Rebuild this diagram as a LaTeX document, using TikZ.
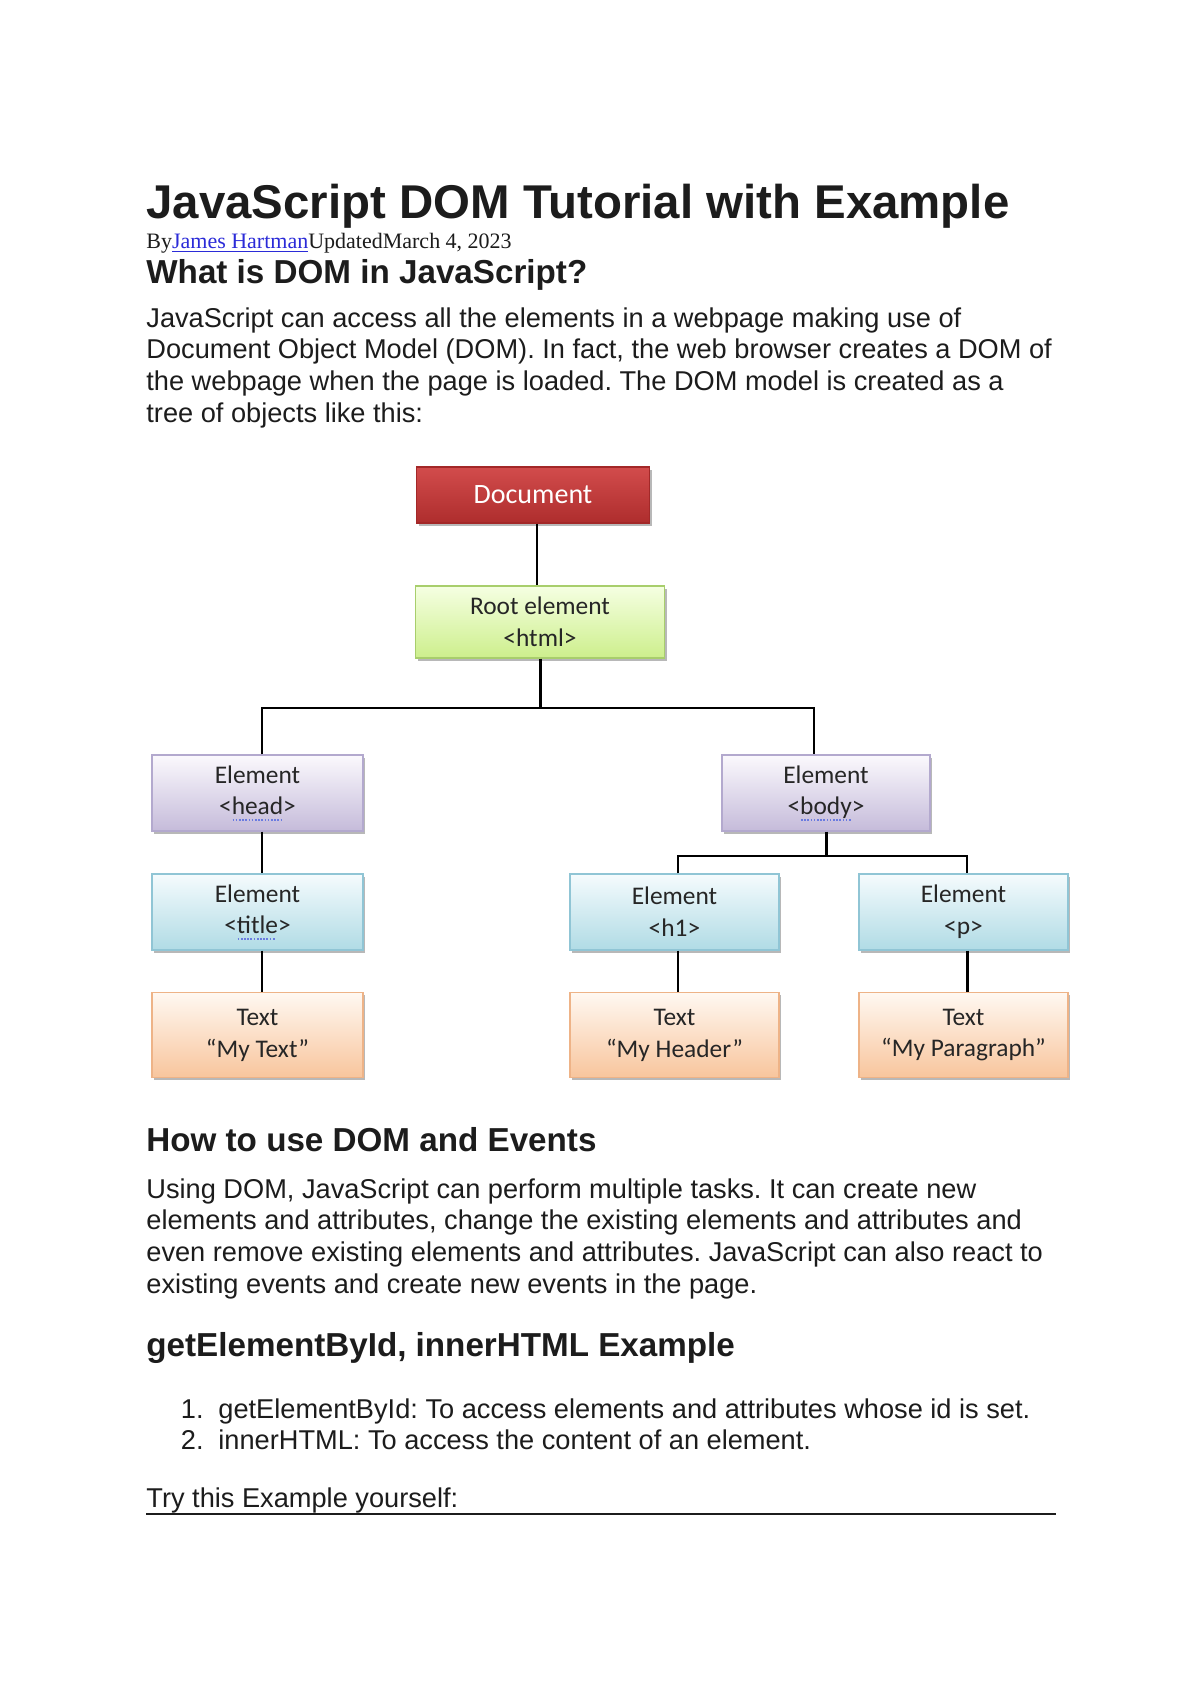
\documentclass[tikz,border=0pt]{standalone}
\usepackage{fontspec}
\setmainfont{Liberation Sans}
\newfontfamily\boxfont{Carlito}
\newfontfamily\seriffont{Liberation Serif}
\usetikzlibrary{shadows}
\frenchspacing

\definecolor{inktext}{HTML}{1C1C1C}
\definecolor{linkblue}{HTML}{2B2BD8}
\definecolor{spellblue}{HTML}{6A7BE0}
\definecolor{boxtext}{HTML}{262626}
\definecolor{docTop}{HTML}{D24C4C}
\definecolor{docBot}{HTML}{AE2D2D}
\definecolor{docLine}{HTML}{A32828}
\definecolor{rootTop}{HTML}{F5FFE2}
\definecolor{rootBot}{HTML}{CDEF8C}
\definecolor{rootLine}{HTML}{A8CE6C}
\definecolor{purpTop}{HTML}{FBF9FD}
\definecolor{purpBot}{HTML}{C5BBDA}
\definecolor{purpLine}{HTML}{B3A9CE}
\definecolor{blueTop}{HTML}{F5FBFD}
\definecolor{blueBot}{HTML}{B0DBE5}
\definecolor{blueLine}{HTML}{90C5D5}
\definecolor{orngTop}{HTML}{FFF8F1}
\definecolor{orngBot}{HTML}{F8C59D}
\definecolor{orngLine}{HTML}{EEB387}

\newlength{\squigwd}
\newcommand{\squig}[1]{\settowidth{\squigwd}{#1}%
    \rlap{\textcolor{spellblue}{\raisebox{-2.8pt}{\leaders\hbox to 1.6pt{\hss\rule{0.85pt}{0.8pt}\hss}\hskip\squigwd}}}#1}

\tikzset{
    dombox/.style={minimum width=105.5pt, minimum height=38pt, inner sep=0pt, align=center,
        line width=0.6pt, text=boxtext, font=\boxfont\fontsize{12.7}{15.9}\selectfont,
        drop shadow={shadow xshift=1.2pt, shadow yshift=-1.4pt, fill=black, opacity=0.28}},
    docbox/.style={dombox, top color=docTop, bottom color=docBot, draw=docLine, text=white},
    rootbox/.style={dombox, top color=rootTop, bottom color=rootBot, draw=rootLine},
    elembox/.style={dombox, top color=purpTop, bottom color=purpBot, draw=purpLine},
    tagbox/.style={dombox, top color=blueTop, bottom color=blueBot, draw=blueLine},
    textbox/.style={dombox, top color=orngTop, bottom color=orngBot, draw=orngLine, minimum height=42.5pt},
    link/.style={line width=1pt, black},
    linkthick/.style={line width=1.5pt, black},
    prose/.style={anchor=base west, inner sep=0pt, align=left, text=inktext, font=\fontsize{13.6}{15.8}\selectfont},
    heading/.style={anchor=base west, inner sep=0pt, text=inktext, font=\fontsize{16.6}{20}\selectfont\bfseries}
}

\begin{document}
\begin{tikzpicture}[x=0.5pt, y=-0.5pt]
    \useasboundingbox (0,0) rectangle (1200,1698);
    \fill[white] (0,0) rectangle (1200,1698);

    \node[anchor=base west, inner sep=0pt, text=inktext, font=\fontsize{23.7}{28}\selectfont\bfseries] (pagetitle) at (146,218)
        {JavaScript DOM Tutorial with Example};
    \node[anchor=base west, inner sep=0pt, text=inktext, font=\seriffont\fontsize{11}{13}\selectfont] (byline) at (146,248)
        {By\textcolor{linkblue}{\underline{James Hartman}}UpdatedMarch 4, 2023};
    \node[heading] (whatis) at (146,283) {What is DOM in JavaScript?};
    % base of a multi-line node = its last line
    \node[prose] (intro) at (146,422)
        {JavaScript can access all the elements in a webpage making use of\\
         Document Object Model (DOM). In fact, the web browser creates a DOM of\\
         the webpage when the page is loaded. The DOM model is created as a\\
         tree of objects like this:};

    %tree
    \node[docbox, minimum width=116.5pt, minimum height=28pt, font=\boxfont\fontsize{14}{17}\selectfont] (doc) at (533,495) {Document};
    \node[rootbox, minimum width=124.5pt, minimum height=36pt] (html) at (540,622) {Root element\\<html>};
    \node[elembox] (head) at (257.5,793) {Element\\<\squig{head}>};
    \node[elembox, minimum width=104pt] (body) at (826,793) {Element\\<\squig{body}>};
    \node[tagbox] (ttl) at (257.5,912) {Element\\<\squig{title}>};
    \node[tagbox, minimum width=104.5pt] (hone) at (674.5,912) {Element\\<h1>};
    \node[tagbox, minimum width=104.5pt] (para) at (963.5,912) {Element\\<p>};
    \node[textbox] (ttltext) at (257.5,1035) {Text\\“My Text”};
    \node[textbox, minimum width=104.5pt] (honetext) at (674.5,1035) {Text\\“My Header”};
    \node[textbox, minimum width=104.5pt] (paratext) at (963.5,1035) {Text\\“My Paragraph”};

    \coordinate (bustop) at (540,708);
    \coordinate (buslow) at (826,856);
    \draw[link] ([xshift=2pt]doc.south) -- ([xshift=2pt]doc.south |- html.north);
    \draw[linkthick] (html.south) -- (bustop);
    \draw[link] ([xshift=2pt]head.north) |- (bustop) -| ([xshift=-6pt]body.north);
    \draw[linkthick] (body.south) -- (buslow);
    \draw[link] ([xshift=1.8pt]hone.north) |- (buslow) -| ([xshift=1.8pt]para.north);
    \draw[link] ([xshift=2pt]head.south) -- ([xshift=2pt]ttl.north);
    \draw[link] ([xshift=2pt]ttl.south) -- ([xshift=2pt]ttltext.north);
    \draw[link] ([xshift=1.8pt]hone.south) -- ([xshift=1.8pt]honetext.north);
    \draw[linkthick] ([xshift=1.8pt]para.south) -- ([xshift=1.8pt]paratext.north);

    \node[heading] (howto) at (146,1151) {How to use DOM and Events};
    \node[prose] (usage) at (146,1293)
        {Using DOM, JavaScript can perform multiple tasks. It can create new\\
         elements and attributes, change the existing elements and attributes and\\
         even remove existing elements and attributes. JavaScript can also react to\\
         existing events and create new events in the page.};
    \node[heading] (example) at (146,1356) {getElementById, innerHTML Example};
    \node[prose, anchor=base east] (numone) at (204,1418) {1.};
    \node[prose] (itemone) at (218,1418) {getElementById: To access elements and attributes whose id is set.};
    \node[prose, anchor=base east] (numtwo) at (204,1449) {2.};
    \node[prose] (itemtwo) at (218,1449) {innerHTML: To access the content of an element.};
    \node[prose] (tryit) at (146,1507) {Try this Example yourself:};
    \draw[line width=1.2pt, inktext] (146,1514) -- (1056,1514);
\end{tikzpicture}
\end{document}
